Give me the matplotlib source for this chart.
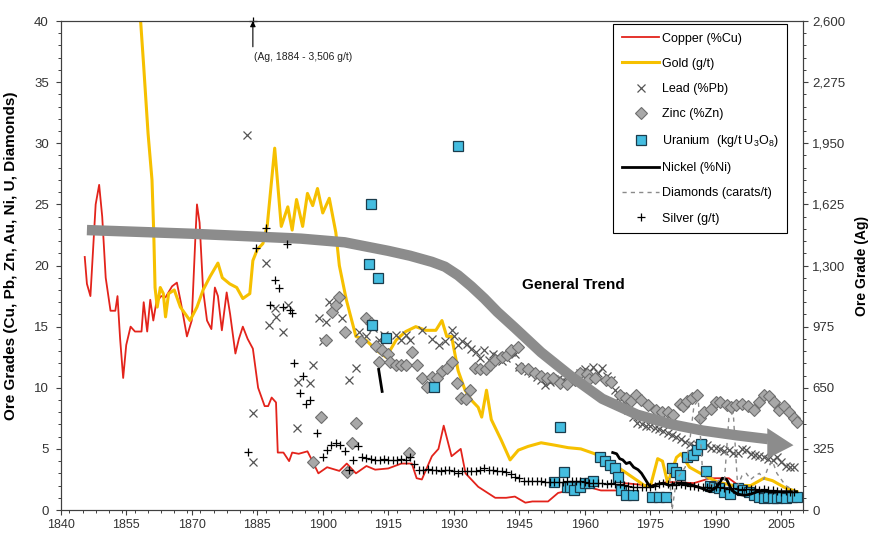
import numpy as np
import matplotlib
matplotlib.use("Agg")
import matplotlib.pyplot as plt
from matplotlib.ticker import MultipleLocator, FuncFormatter

plt.rcParams['font.family'] = ['Liberation Sans', 'DejaVu Sans']
plt.rcParams['mathtext.fontset'] = 'custom'
plt.rcParams['mathtext.rm'] = 'Liberation Sans'

# ---------------- ore grade series ----------------
# copper, % Cu
cu_years = [1845.5, 1846, 1846.8, 1848, 1848.8, 1849.5, 1850.3, 1851.4, 1852.5, 1853, 1853.6, 1854.3,
            1855, 1856, 1857, 1858.5, 1859, 1859.8, 1860.5, 1861.2, 1861.9, 1863, 1864, 1865.5,
            1866.6, 1867.5, 1868.9, 1870, 1870.8, 1871.2, 1871.8, 1872.6, 1873.5, 1874.5, 1875.3,
            1876, 1876.9, 1878, 1878.8, 1880, 1880.8, 1881.7, 1882.8, 1884, 1885.2, 1886.7, 1887.5,
            1888.3, 1889.3, 1889.7, 1891, 1892.3, 1893, 1894.5, 1896.5, 1897.5, 1899, 1901, 1903.8,
            1905.5, 1907.6, 1910, 1912, 1915, 1918, 1920.4, 1921.5, 1922.7, 1925, 1926.5, 1927.7,
            1929.5, 1931.6, 1932.7, 1935.6, 1939.5, 1942, 1944, 1946.4, 1948, 1951.6, 1953.9,
            1957.8, 1960.7, 1963.7, 1968, 1969, 1975, 1979, 1985, 1988.7, 1993, 1995.6, 2001.7, 2008.6]
cu_grade = [20.7, 18.5, 17.5, 25.0, 26.6, 24.0, 19.0, 16.3, 16.3, 17.5, 14.0, 10.8,
            13.5, 15.0, 14.6, 14.6, 17.0, 14.6, 17.2, 15.5, 17.0, 17.5, 17.4, 18.3,
            18.6, 17.0, 14.2, 15.5, 22.0, 25.0, 23.5, 18.0, 15.5, 14.8, 18.2,
            17.5, 14.7, 17.8, 16.0, 12.8, 14.0, 15.0, 14.0, 13.2, 10.0, 8.5, 8.5,
            9.2, 8.8, 4.7, 4.7, 4.0, 4.7, 4.6, 4.8, 4.1, 3.0, 3.5, 3.2,
            3.8, 3.0, 3.6, 3.3, 3.4, 3.8, 3.8, 2.6, 2.5, 4.4, 5.0, 6.9,
            4.4, 5.0, 3.0, 1.9, 1.0, 1.0, 1.1, 0.6, 0.7, 0.7, 1.4,
            1.7, 1.9, 1.6, 1.6, 2.2, 2.0, 2.3, 2.2, 2.6, 2.6, 1.9, 1.5, 1.3]

# gold, g/t
au_years = [1858.2, 1859, 1860, 1860.9, 1861.3, 1861.6, 1862.1, 1862.8, 1863.5, 1864, 1864.7, 1866,
            1867.4, 1869.6, 1871.2, 1872.6, 1874.2, 1876, 1877, 1878.7, 1880.3, 1881.7, 1883.3,
            1884, 1885, 1886.3, 1887.3, 1889, 1890.5, 1892, 1893, 1894, 1895.4, 1896.5, 1897.7,
            1898.8, 1900, 1901.5, 1903, 1903.8, 1905.4, 1907.6, 1909.9, 1912.2, 1914.5, 1916.8,
            1919, 1921.3, 1923.6, 1925.9, 1927.3, 1928.4, 1929.5, 1931, 1932.6, 1934, 1935.6,
            1936.4, 1937.5, 1938.6, 1940.9, 1942.9, 1944.8, 1947, 1950, 1953.2, 1956.2, 1959.1,
            1962.3, 1967.6, 1973.7, 1975, 1976.7, 1977.8, 1979, 1981, 1982, 1984, 1986.5, 1990.3,
            1994, 1998, 2001, 2003, 2006, 2008.6]
au_grade = [40.5, 36.3, 30.8, 27.0, 22.7, 18.2, 16.6, 18.2, 17.7, 15.8, 17.7, 18.0,
            16.6, 15.5, 16.6, 18.0, 19.1, 20.2, 19.0, 18.5, 18.2, 17.3, 17.7,
            20.4, 21.3, 21.8, 23.3, 29.6, 23.2, 24.8, 22.9, 25.4, 23.2, 25.9, 24.9,
            26.3, 24.3, 25.5, 22.7, 20.0, 17.2, 14.2, 13.9, 13.1, 12.5, 13.9,
            14.6, 15.0, 14.7, 14.7, 15.5, 14.2, 14.2, 11.4, 9.8, 9.0, 8.4,
            7.6, 9.8, 7.4, 5.7, 4.1, 4.9, 5.2, 5.5, 5.3, 5.1, 5.0,
            4.6, 3.5, 2.0, 1.9, 4.2, 4.0, 2.2, 4.3, 4.6, 3.5, 3.0, 2.3,
            2.0, 2.0, 2.6, 2.4, 1.8, 1.5]

# lead, % Pb
pb_years = [1882.6, 1884, 1884, 1886.9, 1887.8, 1889, 1889.3, 1890.8, 1892, 1894, 1894.3, 1897,
            1897.7, 1899.2, 1900, 1900.7, 1901.5, 1904.4, 1906, 1907.6, 1908.3, 1909.9, 1911.4,
            1912.9, 1914, 1916.8, 1918, 1919, 1920, 1922.7, 1925, 1926.6, 1928, 1929.5,
            1930, 1931, 1932, 1933, 1934, 1935, 1936, 1937, 1938, 1939, 1940, 1941, 1942, 1943,
            1944, 1945, 1946, 1947, 1948, 1949, 1950, 1951, 1952, 1953, 1954, 1955, 1956, 1957,
            1958, 1959, 1960, 1961, 1962, 1963, 1964, 1965, 1966, 1967, 1968, 1969, 1970, 1971,
            1972, 1973, 1974, 1975, 1976, 1977, 1978, 1979, 1980, 1981, 1982, 1983, 1984, 1985,
            1986, 1987, 1988, 1989, 1990, 1991, 1992, 1993, 1994, 1995, 1996, 1997, 1998, 1999,
            2000, 2001, 2002, 2003, 2004, 2005, 2006, 2007, 2008]
pb_grade = [30.7, 7.9, 3.9, 20.2, 15.1, 16.5, 15.8, 14.6, 16.8, 6.7, 10.5, 10.4,
            11.9, 15.7, 13.8, 15.4, 17.0, 15.7, 10.6, 11.6, 14.6, 14.2, 14.9,
            13.9, 14.3, 14.3, 13.9, 14.3, 13.9, 14.7, 14.0, 13.5, 13.8, 14.7,
            14.2, 13.5, 13.8, 13.6, 13.2, 12.9, 12.4, 13.1, 12.3, 12.8, 12.6, 12.2, 12.4, 12.9,
            12.8, 11.7, 11.5, 11.4, 11.2, 10.9, 10.6, 10.2, 10.5, 10.7, 10.8, 10.6, 10.5, 10.7,
            11.0, 11.2, 11.5, 11.3, 11.7, 11.2, 11.6, 11.0, 10.6, 9.8, 9.3, 8.8, 8.2, 7.6,
            7.1, 7.0, 6.9, 6.9, 6.7, 6.6, 6.5, 6.3, 6.1, 6.0, 5.8, 5.6, 5.4, 5.2,
            5.3, 5.4, 5.3, 5.1, 5.1, 5.0, 4.8, 4.9, 4.7, 4.7, 5.0, 4.9, 4.6, 4.5,
            4.4, 4.3, 4.2, 4.1, 4.3, 3.9, 3.6, 3.5, 3.5]

# zinc, % Zn
zn_years = [1897.7, 1899.6, 1900.7, 1902.2, 1903, 1903.8, 1905, 1905.5, 1906.8, 1907.6, 1908.7,
            1909.8, 1911, 1912.2, 1912.9, 1913.6, 1915, 1915.5, 1916.8, 1918, 1919, 1919.7, 1920.4,
            1921.5, 1922.7, 1923.8, 1925, 1926.2, 1927.3, 1928.4, 1929.5, 1930.7, 1931.6, 1932.7,
            1933.8, 1934.9, 1936, 1937.3, 1938.3, 1939.5, 1941, 1942.3, 1943, 1944.8, 1945.5, 1947,
            1948.7, 1950, 1951.3, 1952.8, 1954.3, 1956, 1957.8, 1959, 1960.5, 1961, 1962.4, 1964.8,
            1966, 1968, 1969.4, 1970.5, 1971.7, 1972.8, 1974.4, 1976.4, 1977.6, 1979, 1980.3,
            1981.7, 1982.6, 1983.3, 1984.5, 1985.8, 1986.5, 1987.4, 1988.8, 1990, 1991, 1992.5,
            1993.6, 1994.7, 1996, 1997.4, 1998.8, 2000, 2001, 2002.3, 2003.4, 2004.5, 2005.7,
            2006.7, 2007.9, 2008.5]
zn_grade = [3.9, 7.6, 13.9, 16.2, 16.8, 17.4, 14.6, 3.1, 5.5, 7.1, 13.8,
            15.7, 15.3, 13.4, 12.1, 13.1, 12.8, 12.1, 11.9, 11.9, 11.9, 4.7, 12.9,
            11.9, 10.8, 10.1, 10.9, 10.8, 11.4, 11.6, 12.1, 10.4, 9.2, 9.1,
            9.8, 11.6, 11.5, 11.5, 11.9, 12.3, 12.5, 12.7, 13.1, 13.3, 11.6, 11.5,
            11.2, 11.0, 10.8, 10.8, 10.4, 10.3, 10.6, 11.2, 11.1, 10.7, 10.8, 10.6,
            10.5, 9.4, 9.2, 8.9, 9.4, 9.0, 8.6, 8.2, 8.0, 8.0, 7.8,
            8.7, 8.5, 8.9, 9.2, 9.4, 7.5, 8.0, 8.3, 8.8, 8.8, 8.6,
            8.4, 8.6, 8.7, 8.5, 8.2, 8.8, 9.4, 9.3, 8.8, 8.2, 8.5,
            8.0, 7.5, 7.2]

# uranium, kg/t U3O8
u_years = [1910.7, 1911, 1911.3, 1912.7, 1914.5, 1925.4, 1931, 1953, 1954.3, 1955.3, 1956,
           1956.6, 1957.5, 1959, 1960, 1961, 1962, 1963.5, 1964.6, 1965.8, 1967, 1967.6, 1968.3,
           1969.4, 1971, 1975.4, 1977, 1978.6, 1980, 1981, 1981.9, 1983.3, 1984.7, 1985.6,
           1986.7, 1987.8, 1988.7, 1989.7, 1990.8, 1992, 1993.2, 1995, 1996, 1997.6, 1998.8,
           2000, 2001, 2002, 2003, 2004, 2005, 2006, 2007.5, 2008.5]
u_grade = [20.1, 25.0, 15.1, 19.0, 14.1, 10.1, 29.8, 2.3, 6.8, 3.1, 1.9,
           1.9, 1.6, 1.9, 2.2, 2.2, 2.4, 4.3, 4.0, 3.7, 3.4, 2.7, 1.6,
           1.2, 1.2, 1.1, 1.1, 1.1, 3.4, 3.1, 2.9, 4.3, 4.5, 4.9,
           5.4, 3.2, 2.0, 1.9, 1.8, 1.5, 1.3, 1.8, 1.6, 1.5, 1.2,
           1.1, 1.0, 1.1, 1.0, 1.0, 1.1, 1.0, 1.1, 1.1]

# nickel, % Ni (gap between the early record and the modern mines)
ni_years = [1912.8, 1913.6, 1940, 1966.4, 1967.3, 1968, 1968.7, 1969.5, 1970.3, 1971.2, 1972.2,
            1973, 1973.7, 1974.4, 1975, 1976.5, 1978, 1979.4, 1981, 1982.8, 1984, 1985.8, 1987.4,
            1988.6, 1990.3, 1991.5, 1992.5, 1993.7, 1995, 1996.6, 1998, 1999.5, 2001, 2002.4,
            2004.7, 2007, 2008.5]
ni_grade = [11.5, 9.7, np.nan, 4.7, 4.6, 4.2, 4.1, 3.8, 3.9, 3.5, 3.3,
            3.0, 2.6, 2.2, 1.9, 2.1, 2.2, 2.0, 2.2, 2.2, 2.1, 1.9, 1.7,
            1.5, 1.9, 2.6, 2.5, 1.6, 1.3, 1.2, 1.3, 1.5, 1.6, 1.5,
            1.5, 1.5, 1.5]

# diamonds, carats/t
dia_years = [1979.3, 1980, 1981, 1982, 1983, 1984, 1985, 1986, 1987, 1988, 1989, 1990, 1991,
             1992, 1993, 1994, 1995, 1996, 1997, 1998, 1999, 2000, 2001, 2002, 2003, 2004,
             2005, 2006, 2007, 2008]
dia_grade = [3.3, 0.0, 2.5, 3.0, 3.5, 5.5, 8.5, 9.0, 3.0, 2.5, 2.0, 2.2, 2.5,
             2.5, 7.5, 8.0, 2.0, 2.8, 3.0, 2.5, 2.8, 3.0, 2.5, 3.5, 4.0, 3.0,
             2.5, 2.0, 1.8, 1.5]

# silver, g/t (right axis)
ag_years = [1882.8, 1884, 1884.8, 1886.9, 1888, 1889, 1889.9, 1890.8, 1891.8, 1892.5, 1893,
            1893.5, 1894.7, 1895.4, 1896.2, 1897, 1898.8, 1900, 1901, 1902, 1903.1, 1904, 1905] \
           + list(range(1906, 2009))
ag_grade = [306, 3506, 1391, 1502, 1092, 1222, 1183, 1079, 1417, 1066, 1047,
            780, 624, 715, 566, 585, 410, 280, 319, 345, 358, 345, 312,
            215, 267, 338, 280, 275, 273, 268, 267, 273, 267, 265, 268, 273, 267, 280, 247,
            215, 215, 218, 212, 215, 210, 215, 212, 208, 195, 205, 208, 210, 208, 215, 221,
            215, 215, 210, 208, 200, 189, 176, 170, 156, 156, 156, 154, 152, 150, 150, 150,
            150, 150, 152, 155, 156, 156, 150, 143, 143, 146, 143, 140, 143, 140, 137, 133,
            127, 124, 124, 124, 124, 124, 130, 140, 143, 137, 133, 133, 137, 133, 130, 127,
            124, 124, 120, 117, 124, 120, 117, 114, 117, 110, 104, 114, 110, 110, 107, 110,
            104, 104, 101, 98, 101, 98, 98]

# general trend band
trend_years = [1846, 1870, 1895, 1905, 1915, 1920, 1925, 1928, 1931, 1934, 1937, 1940, 1944,
               1950, 1957, 1964, 1972, 1980, 1987, 1995, 2002]
trend_grade = [22.9, 22.6, 22.2, 21.9, 21.2, 20.8, 20.3, 19.9, 19.2, 18.3, 17.3, 16.2, 14.9,
               12.9, 10.9, 9.1, 7.8, 7.0, 6.5, 6.1, 5.8]
head_years = [2001.8, 2001.8, 2007.8]
head_grade = [6.7, 4.2, 5.3]

AG_YEAR, AG_PEAK = 1884, 3506

# ---------------- figure ----------------
fig = plt.figure(figsize=(8.7, 5.35), dpi=100)
ax = fig.add_axes([0.0698, 0.0467, 0.8533, 0.914])
ax2 = ax.twinx()

ax.plot(cu_years, cu_grade, color='#e3231b', lw=1.3, label='Copper (%Cu)')
ax.plot(au_years, au_grade, color='#f6c000', lw=2.2, label='Gold (g/t)')
ax.plot(pb_years, pb_grade, ls='none', marker='x', ms=6, mew=0.9, color='#555555',
        label='Lead (%Pb)')
ax.plot(zn_years, zn_grade, ls='none', marker='D', ms=6, mfc='#a8a8a8', mec='#6e6e6e',
        mew=0.8, label='Zinc (%Zn)')
ax.plot(u_years, u_grade, ls='none', marker='s', ms=6.5, mfc='#44bde0', mec='#1b3c4c',
        mew=0.9, label=r'Uranium  (kg/t U$_\mathregular{3}$O$_\mathregular{8}$)')
ax.plot(ni_years, ni_grade, color='black', lw=2, label='Nickel (%Ni)')
ax.plot(dia_years, dia_grade, color='#8a8a8a', lw=1, ls=(0, (3, 3)),
        label='Diamonds (carats/t)')

# trend arrow
ax.plot(trend_years, trend_grade, color='#8c8c8c', lw=7.5, solid_capstyle='butt',
        solid_joinstyle='round', zorder=5)
ax.fill(head_years, head_grade, color='#8c8c8c', lw=0, zorder=5)
ax.text(1957.3, 18.4, 'General Trend', fontsize=11, fontweight='bold', ha='center',
        va='center')

# silver on its own scale; the 1884 outlier is held at the top edge
ag_plot = np.minimum(ag_grade, 2600)
ax2.plot(ag_years, ag_plot, ls='none', marker='+', ms=6, mew=0.9, color='black',
         label='Silver (g/t)', clip_on=False)
ax2.annotate('', xy=(AG_YEAR, 2600), xytext=(AG_YEAR, 2463),
             arrowprops=dict(arrowstyle='-|>', color='black', lw=0.8, mutation_scale=8,
                             shrinkA=0, shrinkB=0))
ax2.text(AG_YEAR + 0.3, 2408, '(Ag, %d - %s g/t)' % (AG_YEAR, format(AG_PEAK, ',')),
         fontsize=7.5, ha='left', va='center', color='#222222')

# axes
ax.set_xlim(1840, 2010)
ax.set_ylim(0, 40)
ax2.set_ylim(0, 2600)
ax.set_xticks(range(1840, 2006, 15))
ax.xaxis.set_minor_locator(MultipleLocator(3))
ax.yaxis.set_major_locator(MultipleLocator(5))
ax.yaxis.set_minor_locator(MultipleLocator(1))
ax2.yaxis.set_major_locator(MultipleLocator(325))
ax2.yaxis.set_minor_locator(MultipleLocator(65))
ax2.yaxis.set_major_formatter(FuncFormatter(lambda v, p: format(int(v), ',')))

for a in (ax, ax2):
    for s in a.spines.values():
        s.set_color('#404040')
        s.set_linewidth(0.8)
    a.tick_params(which='major', direction='out', length=3.5, width=0.8, color='#404040',
                  labelsize=9.5, labelcolor='#333333')
    a.tick_params(which='minor', direction='out', length=2, width=0.7, color='#404040')
ax.tick_params(axis='x', pad=3, labelsize=9)
ax.tick_params(axis='y', pad=5)
ax2.tick_params(axis='y', pad=3)

ax.set_ylabel('Ore Grades (Cu, Pb, Zn, Au, Ni, U, Diamonds)', fontsize=11,
              fontweight='bold')
ax.yaxis.set_label_coords(-0.0575, 0.52)
ax2.set_ylabel('Ore Grade (Ag)', fontsize=10, fontweight='bold', rotation=90)
ax2.yaxis.set_label_coords(1.07, 0.5)

h1, l1 = ax.get_legend_handles_labels()
h2, l2 = ax2.get_legend_handles_labels()
leg = ax2.legend(h1 + h2, l1 + l2, loc='upper left', bbox_to_anchor=(0.744, 0.994),
                 borderaxespad=0, fontsize=9, labelspacing=1.05, handlelength=3.0,
                 handletextpad=0.2, borderpad=0.7, fancybox=False, framealpha=1,
                 edgecolor='black')
leg.get_frame().set_linewidth(0.8)

fig.savefig('out.png', dpi=100)
